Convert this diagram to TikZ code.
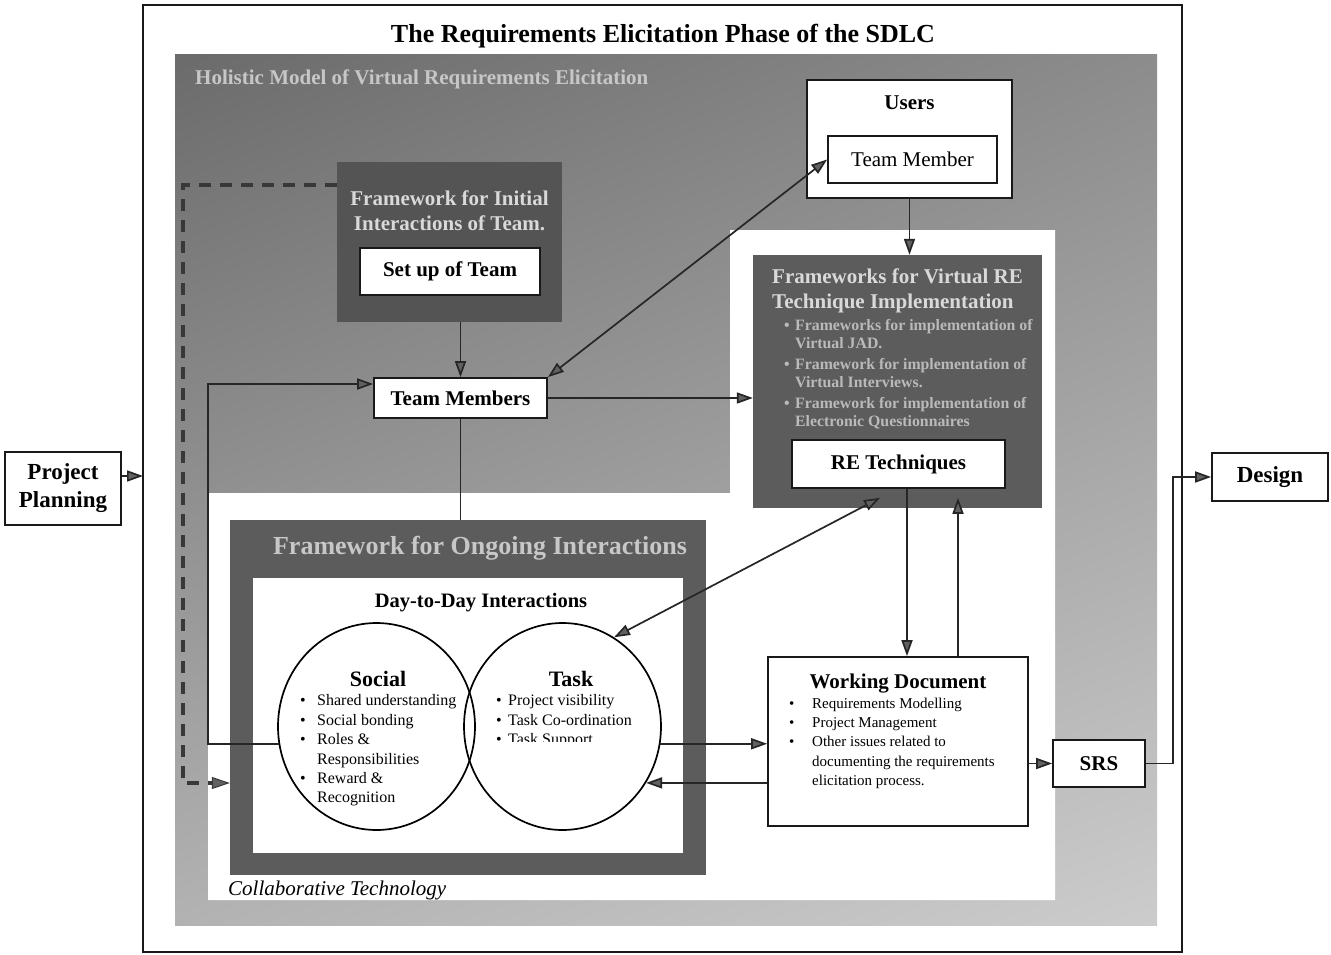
\documentclass[tikz,border=0pt]{standalone}
\usepackage{fontspec}
\setmainfont{Liberation Serif}
\usetikzlibrary{arrows.meta,shapes.geometric,calc,shadings}
\newcommand{\fsz}[2]{\fontsize{#1}{#2}\selectfont}
\newcommand{\bul}[1]{\makebox[#1][l]{\textbullet}}
\newcommand{\ind}[1]{\hspace*{#1}}
\begin{document}
\begin{tikzpicture}[x=1pt,y=-1pt,
  wbox/.style={draw=black!90, fill=white, line width=1.7pt, inner sep=0pt},
  dbox/.style={fill=black!64, inner sep=0pt},
  lbl/.style={inner sep=0pt},
  arr/.style={draw=black!85, line width=1.7pt, -{Triangle[length=16pt,width=11pt,fill=black!62]}},
  darr/.style={draw=black!85, line width=1.7pt, {Triangle[length=16pt,width=11pt,fill=black!62]}-{Triangle[length=16pt,width=11pt,fill=black!62]}},
  ln/.style={draw=black!85, line width=1.7pt},
  dsh/.style={draw=black!78, line width=3.4pt, dash pattern=on 12pt off 9pt, -{Triangle[length=18pt,width=12pt,fill=black!62,line width=1pt]}},
  ell/.style={ellipse, draw=black, line width=1.7pt, minimum width=197pt, minimum height=207pt, inner sep=0pt}
]
\useasboundingbox (0,0) rectangle (1331,955);
\fill[white] (0,0) rectangle (1331,955);
% outer frame
\draw[line width=1.7pt, draw=black!90] (143,5) rectangle (1182,952);
\node[lbl, font=\bfseries\fsz{26}{30}] (title) at (663,36) {The Requirements Elicitation Phase of the SDLC};
% gray holistic region
\shade[upper left=black!58, upper right=black!45, lower left=black!30, lower right=black!20] (175,55) rectangle (1157,925);
\node[lbl, anchor=base west, text=black!22, font=\bfseries\fsz{21}{25}] (holistic) at (195,85) {Holistic Model of Virtual Requirements Elicitation};
% white collaborative technology region
\fill[white] (208,493) -- (730,493) -- (730,230) -- (1055,230) -- (1055,900) -- (208,900) -- cycle;
\node[lbl, anchor=base west, font=\itshape\fsz{21}{25}] (collab) at (228,895) {Collaborative Technology};

% Framework for initial interactions
\node[dbox, fill=black!67, minimum width=225pt, minimum height=160pt] (fwi) at (449.5,242) {};
\node[lbl, align=center, text=black!15, font=\bfseries\fsz{21}{25}] (fwit) at (449.5,211) {Framework for Initial\\Interactions of Team.};
\node[wbox, minimum width=180pt, minimum height=47pt, font=\bfseries\fsz{21}{25}] (setup) at (450,271.5) {Set up of Team};

% Team members
\node[wbox, minimum width=173pt, minimum height=40pt, font=\bfseries\fsz{21}{25}] (tm) at (460.5,398) {Team Members};

% Users
\node[wbox, minimum width=205pt, minimum height=118pt] (users) at (909.5,139) {};
\node[lbl, anchor=base, font=\bfseries\fsz{21}{25}] (userst) at (909.5,110) {Users};
\node[wbox, minimum width=169pt, minimum height=47pt, font=\fsz{21}{25}] (tm2) at (912.5,159.5) {Team Member};

% Frameworks for virtual RE
\node[dbox, minimum width=289pt, minimum height=253pt] (re) at (897.5,381.5) {};
\node[lbl, anchor=north west, align=left, text=black!15, font=\bfseries\fsz{21}{25}] (ret) at (772,269) {Frameworks for Virtual RE\\Technique Implementation};
\node[lbl, anchor=north west, align=left, text=black!27, font=\bfseries\fsz{15.8}{18.5}] (reb) at (784,319)
 {\bul{11pt}Frameworks for implementation of\\\ind{11pt}Virtual JAD.\\[2pt]
  \bul{11pt}Framework for implementation of\\\ind{11pt}Virtual Interviews.\\[2pt]
  \bul{11pt}Framework for implementation of\\\ind{11pt}Electronic Questionnaires};
\node[wbox, minimum width=213pt, minimum height=48pt, font=\bfseries\fsz{21}{25}] (retech) at (898.5,464) {RE Techniques};

% Framework for ongoing interactions
\node[dbox, minimum width=476pt, minimum height=355pt] (ong) at (468,697.5) {};
\node[lbl, anchor=base, text=black!22, font=\bfseries\fsz{26}{30}] (ongt) at (480,554) {Framework for Ongoing Interactions};
\node[lbl, fill=white, minimum width=430pt, minimum height=275pt] (ongin) at (468,715) {};
\node[lbl, anchor=base, font=\bfseries\fsz{20.5}{24}] (dtd) at (481,607) {Day-to-Day Interactions};
\node[ell] (social) at (376.5,726.5) {};
\node[ell] (task) at (562.5,726.5) {};
\node[lbl, anchor=base, font=\bfseries\fsz{22}{26}] (socialt) at (378,686) {Social};
\node[lbl, anchor=base, font=\bfseries\fsz{22}{26}] (taskt) at (571,686) {Task};
\node[lbl, anchor=north west, align=left, font=\fsz{16}{19.4}] (socialb) at (300,694.5)
 {\bul{17pt}Shared understanding\\\bul{17pt}Social bonding\\\bul{17pt}Roles \&\\\ind{17pt}Responsibilities\\\bul{17pt}Reward \&\\\ind{17pt}Recognition};
\begin{scope}
\clip (480,680) rectangle (660,741);
\node[lbl, anchor=north west, align=left, font=\fsz{16}{19.4}] (taskb) at (496,694.5)
 {\bul{12pt}Project visibility\\\bul{12pt}Task Co-ordination\\\bul{12pt}Task Support};
\end{scope}

% Working document
\node[wbox, minimum width=260pt, minimum height=169pt] (wd) at (898,741.5) {};
\node[lbl, anchor=base, font=\bfseries\fsz{21}{25}] (wdt) at (898,688) {Working Document};
\node[lbl, anchor=north west, align=left, font=\fsz{15}{19.3}] (wdb) at (789,697.5)
 {\bul{23pt}Requirements Modelling\\\bul{23pt}Project Management\\\bul{23pt}Other issues related to\\\ind{23pt}documenting the requirements\\\ind{23pt}elicitation process.};

% SRS, Design, Project Planning
\node[wbox, minimum width=92pt, minimum height=47pt, font=\bfseries\fsz{21}{25}] (srs) at (1099,763.5) {SRS};
\node[wbox, minimum width=116pt, minimum height=48pt, font=\bfseries\fsz{23}{27}] (design) at (1270,477) {Design};
\node[wbox, minimum width=116pt, minimum height=73pt, align=center, font=\bfseries\fsz{23}{28}] (pp) at (63,488.5) {Project\\Planning};

% connectors
\coordinate (frL) at (143,476);
\draw[arr] (pp.east |- frL) -- (frL);
\draw[arr] (srs.east) -- ++(27,0) |- (design.west);
\draw[arr] (tm.north |- fwi.south) -- (tm.north);
\draw[darr] (tm.north east) -- (tm2.west);
\draw[arr] (users.south) -- (users.south |- re.north);
\draw[arr] (tm.east) -- (tm.east -| re.west);
\draw[ln] (tm.south) -- (tm.south |- ong.north);
\coordinate (loopc) at (208,384);
\draw[arr] (social.190) -| (loopc) -- (loopc -| tm.west);
\coordinate (dA) at (337,185);
\coordinate (dB) at (183,783);
\draw[dsh] (dA) -| (dB) -- (dB -| ong.west);
\draw[darr] ($(retech.south)+(-18.5,9)$) -- (task.60);
\draw[arr] ($(retech.south)+(8.5,0)$) -- ($(wd.north)+(9,0)$);
\draw[arr] ($(wd.north)+(60,0)$) -- ($(retech.south)+(59.5,9)$);
\draw[arr] (task.350) -- (task.350 -| wd.west);
\draw[arr] (task.326 -| wd.west) -- (task.326);
\draw[arr] (wd.east |- srs.west) -- (srs.west);
\end{tikzpicture}
\end{document}
